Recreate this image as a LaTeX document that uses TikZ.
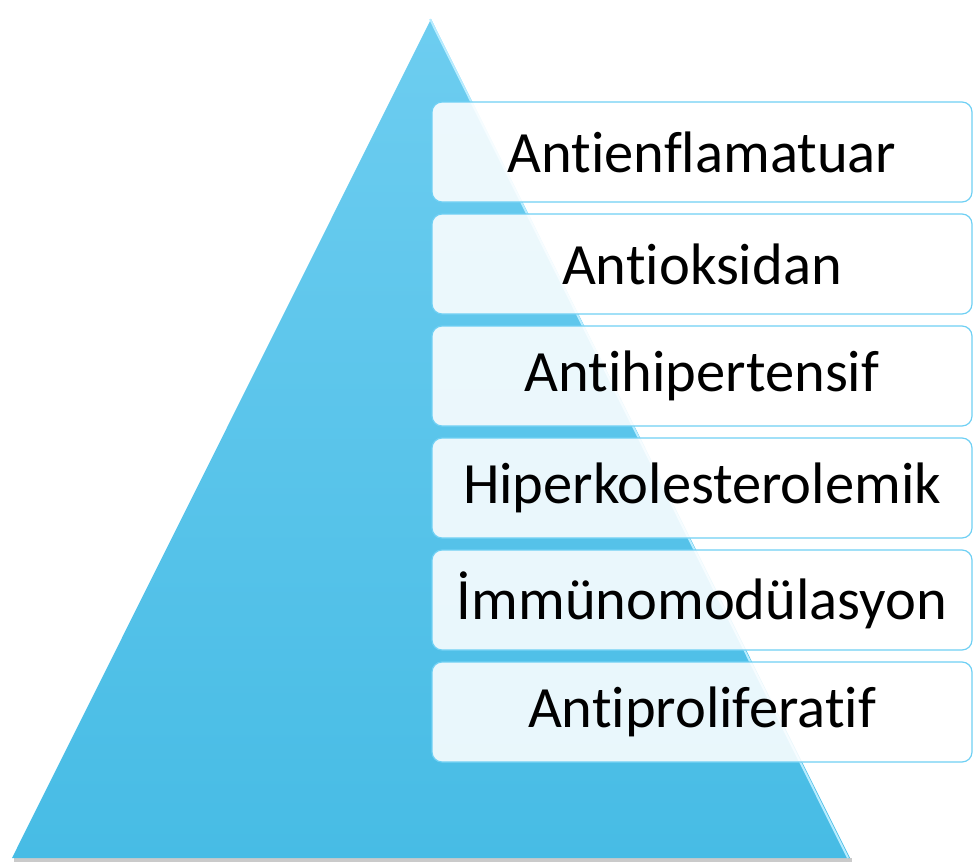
\documentclass[tikz,border=0pt]{standalone}
\usepackage{fontspec}
\setmainfont{Carlito}[Ligatures=NoCommon]
\definecolor{pyrtop}{HTML}{6DCDF0}
\definecolor{pyrbot}{HTML}{47BCE5}
\definecolor{pyredge}{HTML}{B8ECFF}
\definecolor{boxline}{HTML}{6FD0F4}
\tikzset{
  levelbox/.style={draw=boxline, line width=1.2pt, fill=white, fill opacity=.88,
    text opacity=1, rounded corners=10pt, minimum width=540pt, minimum height=100pt,
    inner sep=0pt, font=\fontsize{58.5}{64}\selectfont},
}
\begin{document}
\begin{tikzpicture}[x=1pt,y=-1pt]
\useasboundingbox (0,0) rectangle (974,862);
\coordinate (apex) at (431,19);
\coordinate (bl) at (12,858);
\coordinate (br) at (850,858);
% pyramid
\fill[black!35, opacity=.6] (14,858) -- (852,858) -- (852,862) -- (14,862) -- cycle;
\shade[top color=pyrtop, bottom color=pyrbot] (apex) -- (br) -- (bl) -- cycle;
\draw[pyredge, line width=2pt] ([xshift=-1pt]apex) -- ([xshift=-2pt]br);
% levels
\foreach \i/\n in {1/Antienflamatuar,2/Antioksidan,3/Antihipertensif,
    4/Hiperkolesterolemik,5/İmmünomodülasyon,6/Antiproliferatif}{
    \node[levelbox] (lv\i) at (702,{152+112*(\i-1)}) {\n};
}
\end{tikzpicture}
\end{document}
